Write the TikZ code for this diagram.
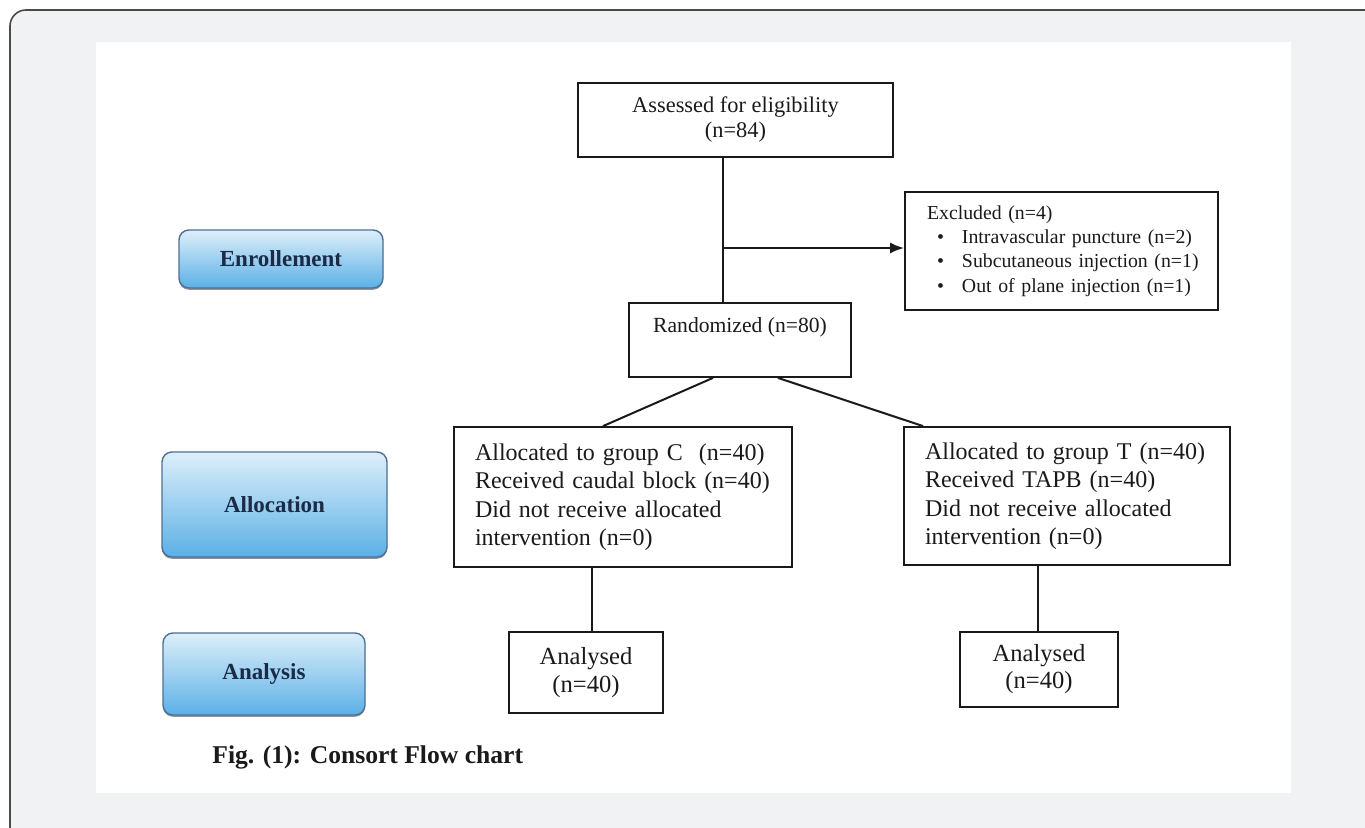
\documentclass[tikz,border=0pt]{standalone}
\usepackage{fontspec}
\setmainfont{Liberation Serif}
\usetikzlibrary{arrows.meta,shadows}
\definecolor{bgray}{HTML}{F1F2F4}
\definecolor{framegray}{HTML}{4A4A4A}
\definecolor{stagetop}{HTML}{DDEFFA}
\definecolor{stagebot}{HTML}{5BB0E6}
\definecolor{stageborder}{HTML}{4F6F98}
\definecolor{stagetext}{HTML}{1B2A47}
\definecolor{ink}{HTML}{1A1A1A}
\begin{document}
\begin{tikzpicture}[x=0.5pt,y=-0.5pt,
  box/.style={draw=ink, line width=0.9pt, fill=white, inner sep=0pt, text=ink, align=center},
  lbox/.style={draw=ink, line width=0.9pt, fill=white, inner ysep=0pt, text=ink, align=left},
  stage/.style={draw=stageborder, line width=0.7pt, rounded corners=5pt, top color=stagetop, bottom color=stagebot,
     text=stagetext, font=\fontsize{11.5}{13}\selectfont\bfseries, inner sep=0pt,
     drop shadow={shadow xshift=0pt, shadow yshift=-0.9pt, fill=black!70, opacity=0.6}},
  conn/.style={draw=ink, line width=1pt},
  arr/.style={conn, -{Latex[length=7pt,width=5.5pt]}}
]
\useasboundingbox (0,0) rectangle (1365,828);
\clip (0,0) rectangle (1365,828);
\fill[white] (0,0) rectangle (1365,828);
\draw[fill=bgray, draw=framegray, line width=0.8pt, rounded corners=8pt] (10,10) rectangle (1420,880);
\fill[white] (96,42) rectangle (1291,793);

% stage labels
\node[stage, minimum width=102pt, minimum height=29pt] (enrol) at (281,259) {Enrollement};
\node[stage, minimum width=112.5pt, minimum height=52.5pt] (alloc) at (274.5,504.5) {Allocation};
\node[stage, minimum width=101pt, minimum height=41pt] (anal) at (264,674) {Analysis};

% flow boxes
\node[box, minimum width=157.5pt, minimum height=37pt, font=\fontsize{11.2}{12.5}\selectfont] (assess) at (735.5,120)
  {Assessed for eligibility\\(n=84)};
\node[box, minimum width=111pt, minimum height=37pt, font=\fontsize{10.8}{15}\selectfont] (rand) at (740,340)
  {Randomized (n=80)\\\mbox{}};
\node[lbox, inner xsep=11pt, text width=134.5pt, minimum height=59pt, font=\fontsize{9.9}{12.2}\selectfont] (excl) at (1061.5,251)
  {\mbox{Excluded (n=4)}\\
   \mbox{\makebox[17.5pt][l]{\hspace{5pt}\textbullet}Intravascular puncture (n=2)}\\
   \mbox{\makebox[17.5pt][l]{\hspace{5pt}\textbullet}Subcutaneous injection (n=1)}\\
   \mbox{\makebox[17.5pt][l]{\hspace{5pt}\textbullet}Out of plane injection (n=1)}};
\node[lbox, inner xsep=10.5pt, text width=148pt, minimum height=70pt, font=\fontsize{12}{14.25}\selectfont] (grpC) at (623,497)
  {\mbox{Allocated to group C\ \ (n=40)}\\\mbox{Received caudal block (n=40)}\\\mbox{Did not receive allocated}\\\mbox{intervention (n=0)}};
\node[lbox, inner xsep=10.5pt, text width=142pt, minimum height=69pt, font=\fontsize{12}{14.25}\selectfont] (grpT) at (1067,496)
  {\mbox{Allocated to group T (n=40)}\\\mbox{Received TAPB (n=40)}\\\mbox{Did not receive allocated}\\\mbox{intervention (n=0)}};
\node[box, minimum width=77pt, minimum height=40.5pt, font=\fontsize{12.3}{14}\selectfont] (anC) at (586,672.5)
  {Analysed\\(n=40)};
\node[box, minimum width=79pt, minimum height=37.5pt, font=\fontsize{12.3}{13.5}\selectfont] (anT) at (1039,669.5)
  {Analysed\\(n=40)};

% caption
\node[anchor=base west, inner sep=0pt, text=ink, font=\fontsize{12.8}{14}\selectfont\bfseries] (cap) at (212,763)
  {Fig. (1): Consort Flow chart};

% connectors
\coordinate (j) at (723,248);
\draw[conn] (assess.south -| j) -- (rand.north -| j);
\draw[arr] (j) -- (excl.west |- j);
\draw[conn] ([xshift=-13.5pt]rand.south) -- ([xshift=-10pt]grpC.north);
\draw[conn] ([xshift=19pt]rand.south) -- ([xshift=-72pt]grpT.north);
\coordinate (c1) at ([xshift=-15.5pt]grpC.south);
\draw[conn] (c1) -- (c1 |- anC.north);
\coordinate (t1) at ([xshift=-14.5pt]grpT.south);
\draw[conn] (t1) -- (t1 |- anT.north);
\end{tikzpicture}
\end{document}
